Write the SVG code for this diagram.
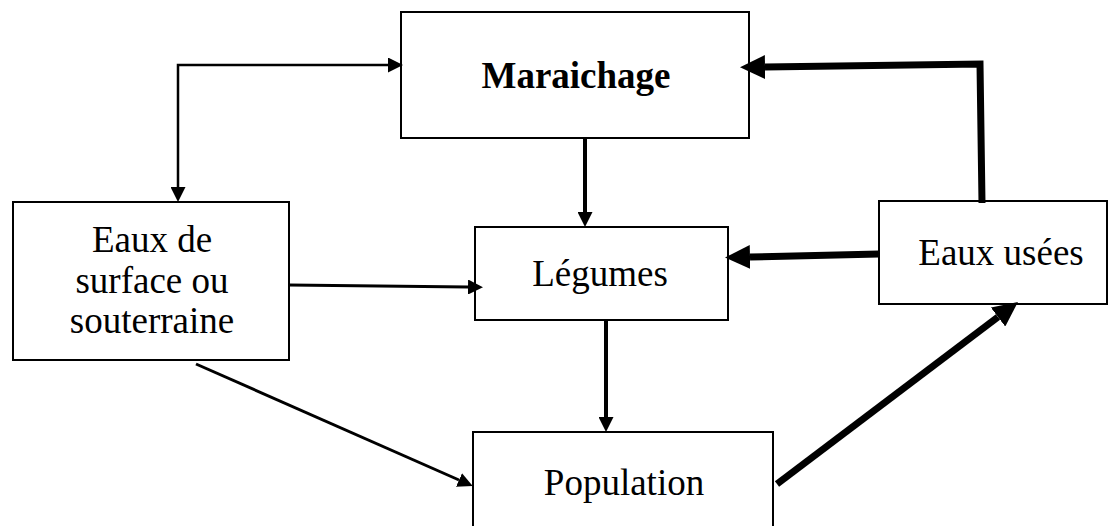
<svg xmlns="http://www.w3.org/2000/svg" width="1120" height="526" viewBox="0 0 1120 526">
<style>
.box{fill:#fff;stroke:#000;stroke-width:2}
.t{font-family:"Liberation Serif","Times New Roman",serif;font-size:37px;fill:#000;text-anchor:middle}
.b{font-weight:bold}
.c{fill:none;stroke:#000;stroke-linejoin:miter}
</style>
<defs>
<marker id="m" markerUnits="userSpaceOnUse" viewBox="0 0 15 15" markerWidth="15" markerHeight="15" refX="0" refY="7.5" orient="auto-start-reverse">
<path d="M0,0 L15,7.5 L0,15 z" fill="#000"/>
</marker>
<marker id="h" markerUnits="userSpaceOnUse" viewBox="0 0 25 24" markerWidth="25" markerHeight="24" refX="0" refY="12" orient="auto">
<path d="M0,0 L25,12 L0,24 z" fill="#000"/>
</marker>
</defs>
<rect width="1120" height="526" fill="#fff"/>
<g id="maraichage">
<rect class="box" x="401" y="12" width="348" height="126"/>
<text class="t b" x="576" y="88">Maraichage</text>
</g>
<g id="eaux-surface">
<rect class="box" x="13" y="202" width="276" height="158"/>
<text class="t" x="152" y="252">Eaux de</text>
<text class="t" x="152" y="293">surface ou</text>
<text class="t" x="152" y="333">souterraine</text>
</g>
<g id="legumes">
<rect class="box" x="475" y="227" width="253" height="93"/>
<text class="t" x="600" y="286">Légumes</text>
</g>
<g id="eaux-usees">
<rect class="box" x="879" y="201" width="228" height="103"/>
<text class="t" x="1001" y="265">Eaux usées</text>
</g>
<g id="population">
<rect class="box" x="473" y="432" width="300" height="110"/>
<text class="t" x="624" y="495">Population</text>
</g>
<g id="connectors">
<path class="c" stroke-width="2.5" d="M178,187 L178,65 L388,65" marker-start="url(#m)" marker-end="url(#m)"/>
<path class="c" stroke-width="4" d="M585,139 L585,212" marker-end="url(#m)"/>
<path class="c" stroke-width="7" d="M982,203 L980,64 L765,67" marker-end="url(#h)"/>
<path class="c" stroke-width="7" d="M879,254 L750,257" marker-end="url(#h)"/>
<path class="c" stroke-width="3" d="M289,285 L468,287" marker-end="url(#m)"/>
<path class="c" stroke-width="3" d="M196,364 L459,480" marker-end="url(#m)"/>
<path class="c" stroke-width="4" d="M606,320 L606,417" marker-end="url(#m)"/>
<path class="c" stroke-width="7" d="M777,484 L998,317" marker-end="url(#h)"/>
</g>
</svg>
